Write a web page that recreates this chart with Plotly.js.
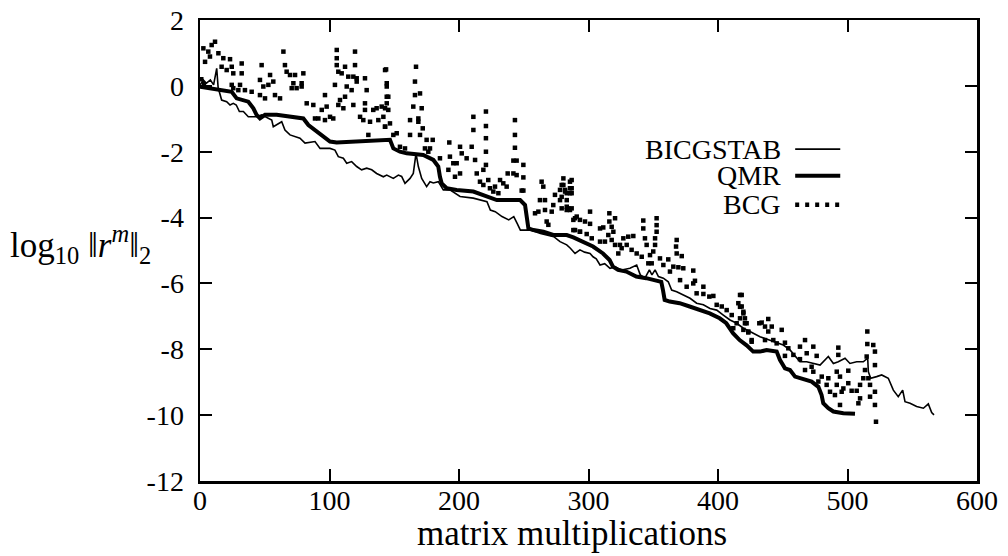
<!DOCTYPE html>
<html>
<head>
<meta charset="utf-8">
<script src="https://cdn.plot.ly/plotly-3.0.1.min.js"></script>
<style>html,body{margin:0;padding:0;background:#fff;}#chart{width:1008px;height:556px;}</style>
</head>
<body>
<div id="chart"></div>
<script>
// ---- data ----
var xTickVals = [0, 100, 200, 300, 400, 500, 600];
var xTickText = ["0", "100", "200", "300", "400", "500", "600"];
var yTickVals = [-12, -10, -8, -6, -4, -2, 0, 2];
var yTickText = ["-12", "-10", "-8", "-6", "-4", "-2", "0", "2"];

var seriesNames = ["BICGSTAB", "QMR", "BCG"];

var bicgstabX = [0, 2.6, 5, 8, 10.5, 12.9, 14, 15.4, 16.7, 20.6,
  23.2, 25.7, 28, 30.4, 33.5, 37.3, 43.7, 47.6, 55.4, 56.6,
  60.5, 63.1, 65.6, 69.5, 77.2, 81.1, 88.8, 92.7, 100.4, 104.2,
  106.8, 110.7, 113.3, 117.1, 121, 124.8, 128.7, 132.6, 136.4, 141.6,
  144.2, 149.3, 153.2, 155.7, 158.3, 162.2, 164.7, 166.8, 168.6, 171.2,
  175, 177.6, 180.2, 184, 187.9, 193, 200.8, 211, 221.6, 224.2,
  228, 233.2, 238.4, 242.3, 244.8, 247.4, 255.2, 262.9, 273.2, 278,
  283.2, 286, 289.6, 293.4, 297, 301.2, 303.5, 306, 308.9, 312.5,
  316.6, 320.5, 325.6, 332, 337.2, 340, 343.6, 347, 349, 351.4,
  354, 357.8, 361.6, 364.2, 368.1, 373.2, 378.4, 383.5, 388.7, 393.8,
  399, 404.1, 409.3, 414.4, 419.6, 424.7, 429.9, 432.4, 436.3, 440.2,
  445.3, 450.4, 455.6, 459.5, 463.3, 468.5, 473.6, 478.8, 485.2, 489.1,
  492.9, 498.1, 501.9, 507.1, 512.2, 515.6, 516.1, 517.9, 522.5, 526.4,
  531.5, 535.4, 539.2, 542.6, 544.4, 548.3, 553.4, 558.6, 562.4, 565, 566.8];
var bicgstabY = [0.03, 0.18, 0.08, 0.18, 0.03, 0.53, -0.05, -0.28, -0.43, -0.48,
  -0.58, -0.53, -0.58, -0.78, -0.78, -0.94, -0.94, -0.88, -1.04, -1.24,
  -1.14, -1.09, -1.34, -1.49, -1.59, -1.74, -1.69, -1.90, -1.90, -1.95,
  -2.15, -2.20, -2.35, -2.30, -2.45, -2.55, -2.50, -2.55, -2.66, -2.76,
  -2.71, -2.81, -2.71, -2.75, -2.96, -2.81, -2.66, -2.05, -2.45, -2.81,
  -3.06, -2.91, -2.95, -2.91, -3.16, -3.16, -3.36, -3.41, -3.52, -3.77,
  -3.82, -3.97, -4.07, -3.97, -4.17, -4.38, -4.38, -4.48, -4.58, -4.73,
  -4.83, -4.93, -5.09, -4.98, -5.05, -5.09, -5.19, -5.25, -5.44, -5.40,
  -5.54, -5.50, -5.59, -5.54, -5.44, -5.74, -5.84, -5.59, -5.74, -5.59,
  -5.79, -5.84, -5.95, -6.20, -6.25, -6.35, -6.45, -6.60, -6.65, -6.76,
  -6.81, -6.96, -7.11, -7.21, -7.36, -7.46, -7.57, -7.62, -7.67, -7.72,
  -7.80, -7.87, -8.02, -8.22, -8.38, -8.38, -8.43, -8.48, -8.22, -8.43,
  -8.38, -8.27, -8.43, -8.38, -8.38, -8.27, -8.68, -8.88, -8.83, -8.78,
  -8.88, -9.24, -9.44, -9.24, -9.59, -9.64, -9.74, -9.79, -9.66, -9.92, -9.99];

var qmrX = [0, 8, 18, 24.5, 28.3, 32.2, 37.3, 41.2, 43.7, 46.3,
  50.2, 59.2, 69.5, 79.8, 83.7, 88.8, 95.2, 100.4, 105.5, 121,
  136.4, 146.7, 149.3, 154.4, 159.6, 172.4, 180.2, 184, 185.3, 186.6,
  190.5, 198.2, 211.1, 221.4, 229.2, 236.9, 247.2, 251, 252.3, 253.6,
  257.5, 265.2, 272.8, 283.2, 288.3, 296, 303.5, 311.2, 316.3, 318.9,
  322.8, 329.2, 336.9, 344.6, 352.4, 356.2, 357.5, 358.8, 362.7, 370.4,
  378.1, 385.8, 393.6, 401.3, 406.4, 411.6, 416.7, 422.1, 427.2, 432.4,
  437.5, 445.3, 447.8, 451.7, 455.6, 459.5, 464.6, 472.3, 477.5, 480,
  481.3, 485.2, 489.1, 496.8, 505.8];
var qmrY = [-0.03, -0.07, -0.12, -0.18, -0.38, -0.43, -0.48, -0.68, -0.88, -0.99,
  -0.88, -0.88, -0.94, -0.99, -1.19, -1.34, -1.54, -1.69, -1.72, -1.69,
  -1.66, -1.64, -1.90, -2.0, -2.05, -2.10, -2.25, -2.45, -2.76, -2.96,
  -3.11, -3.16, -3.21, -3.36, -3.47, -3.47, -3.47, -3.62, -4.07, -4.33,
  -4.38, -4.43, -4.53, -4.53, -4.60, -4.73, -4.88, -5.09, -5.29, -5.49,
  -5.59, -5.64, -5.79, -5.84, -5.90, -5.95, -6.20, -6.50, -6.55, -6.60,
  -6.70, -6.81, -6.91, -7.06, -7.21, -7.51, -7.72, -7.88, -8.07, -8.07,
  -8.02, -8.07, -8.32, -8.58, -8.63, -8.83, -8.88, -8.98, -9.14, -9.39,
  -9.64, -9.79, -9.89, -9.94, -9.96];

var bcgX = [1, 3, 2.6, 6.4, 9.0, 11.6, 3.9, 7.7, 14.2, 18.0, 23.2, 16.7, 20.6, 24.5, 25.7, 32.2, 32.2, 24.5, 25.7, 30.9,
  29.6, 34.7, 39.9, 47.6, 46.3, 48.9, 52.8, 56.6, 54.1, 46.3, 50.2, 57.9, 61.8, 64.4, 65.6, 66.9, 69.5, 73.4, 72.1, 70.8,
  74.6, 78.5, 79.8, 78.5, 82.4, 87.5, 88.8, 91.4, 96.5, 94.0, 97.8, 96.5, 100.4, 102.9, 105.6, 105.6, 105.6, 106.8, 104.2, 112.0,
  109.4, 114.5, 118.4, 119.7, 119.7, 121.0, 121.0, 127.4, 128.7, 113.3, 117.1, 112.0, 108.1, 106.8, 110.7, 118.4, 123.6, 127.4, 127.4, 126.1,
  131.3, 130.0, 133.8, 136.4, 137.7, 140.3, 144.2, 145.4, 142.9, 144.2, 143.7,
  142.9, 144.2, 144.2, 142.9, 145.4, 141.6, 142.9, 146.7, 149.3, 151.9, 154.4, 158.3, 162.2, 162.2, 166.8, 166.0, 166.0, 169.9, 164.7,
  171.2, 168.6, 168.6, 172.0, 169.9, 175.0, 179.7, 173.7, 177.6, 176.3, 185.3, 192.5, 193.0, 195.6, 191.8, 200.8, 202.1, 198.2, 200.8, 196.9,
  205.9, 211.1, 211.1, 209.8, 212.4, 213.7, 216.2, 218.8, 220.8, 220.8, 220.8, 220.8, 220.8, 218.8, 222.6, 223.9, 226.5, 230.4, 227.8, 231.7,
  234.2, 236.8, 237.6, 243.2, 243.2, 243.2, 242.0, 244.5, 242.0, 244.5, 249.7, 249.7, 249.7, 248.4, 258.7, 261.3, 263.8, 265.1, 262.5, 266.4,
  267.7, 269.0, 266.4, 271.6, 272.8, 274.1, 278.0, 279.3, 280.6, 281.9, 283.2, 287.0, 285.7, 287.0, 278.0, 279.3, 283.2, 285.7, 288.3, 290.9,
  289.6, 293.4,
  280.6, 285.7, 287.0, 281.9, 285.7, 279.3, 283.2, 284.4, 283.2, 287.0, 301.2, 289.6, 293.4, 297.3, 301.2, 288.3, 293.4, 298.6, 302.5,
  308.9, 311.4, 316.1, 320.5, 316.1, 317.9, 319.2, 315.3, 308.9, 312.7, 317.9, 320.5, 326.9, 330.7, 334.6, 324.3, 329.5, 333.3, 323.0, 325.6,
  337.2, 342.3, 342.3, 343.6, 344.9, 347.5, 352.6, 352.6, 352.6, 351.4, 351.4, 350.0, 341.1, 346.2, 348.8, 355.2, 357.8, 361.6, 368.1, 367.6,
  368.1, 372.0, 365.5, 369.4, 373.2, 362.9, 370.7, 380.9, 382.2, 380.9, 375.8, 388.7, 383.5, 388.7, 393.3, 396.4, 399.0, 402.9, 406.7, 410.6,
  417.0, 415.7, 418.3, 419.6, 417.0, 420.8, 414.4, 411.8, 423.4, 426.0, 431.9,
  418.3, 417.0, 419.6, 420.8, 422.1, 419.6, 423.4, 426.0, 433.7, 438.8, 436.3, 441.5, 438.8, 436.3, 449.2, 442.7, 445.3, 451.7, 454.3, 451.7,
  458.2, 463.3, 467.2, 468.5, 473.6, 476.2, 463.3, 467.2, 472.3, 473.6, 480.1, 485.2, 477.5, 483.9, 486.5, 490.3, 492.9, 492.9, 491.7, 494.2,
  491.7, 496.8, 495.5, 500.6, 500.6, 503.2, 494.2, 507.1, 508.4, 509.7, 509.7, 512.2, 513.5, 514.8, 515.3, 515.3, 516.1, 517.4, 517.4, 519.9,
  521.2, 521.2, 521.2, 521.2, 522.0];
var bcgY = [0.2, 0.05, 1.14, 1.04, 1.24, 1.34, 0.73, 0.89, 0.99, 0.84, 0.81, 0.58, 0.48, 0.58, 0.38, 0.68, 0.38, 0.03, -0.07, 0.03,
  -0.13, -0.13, -0.18, 0.63, 0.18, -0.02, 0.03, 0.13, 0.33, -0.28, -0.38, -0.28, -0.38, 1.04, 0.63, 0.43, 0.33, 0.33, 0.08, -0.07,
  -0.07, 0.08, 0.38, -0.02, -0.53, -0.58, -0.99, -0.99, -0.28, -0.73, -0.63, -1.04, -0.94, -0.99, 1.09, 0.84, 0.63, 0.43, 0.03, 0.58,
  0.38, 0.28, 0.28, 1.04, 0.63, 0.23, 0.13, 0.23, -0.13, -0.02, -0.13, -0.33, -0.43, -0.58, -0.68, -0.58, -0.94, -0.53, -0.73, -1.04,
  -1.09, -1.49, -0.73, -0.68, -1.04, -0.63, -0.53, -0.33, -1.24, -0.02, 0.50,
  0.48, 0.08, -0.33, -0.68, -0.73, -0.94, -1.24, -1.14, -1.49, -1.44, -1.85, -1.90, -1.04, -1.49, 0.58, 0.13, -0.28, -0.23, -0.63,
  -0.68, -0.99, -1.09, -1.29, -1.49, -1.64, -1.64, -1.90, -1.90, -2.0, -2.20, -1.72, -2.15, -2.35, -2.55, -1.85, -2.05, -2.35, -2.66, -2.76,
  -2.20, -0.94, -1.34, -1.85, -2.25, -2.66, -2.91, -3.01, -0.78, -1.22, -1.59, -2.0, -2.40, -2.55, -2.86, -3.11, -3.21, -3.26, -3.06, -2.86,
  -2.96, -3.06, -2.66, -1.04, -1.49, -1.88, -2.27, -2.27, -2.66, -2.71, -2.40, -2.78, -3.18, -3.18, -3.87, -3.82, -2.91, -3.06, -3.47, -3.47,
  -4.12, -4.22, -3.77, -3.82, -3.62, -3.31, -3.16, -3.01, -2.81, -3.16, -3.26, -2.86, -3.11, -3.26, -3.47, -3.72, -3.67, -3.77, -4.07, -3.97,
  -4.38, -4.43,
  -3.01, -2.91, -3.11, -3.21, -3.26, -3.37, -3.47, -3.72, -3.77, -3.72, -3.82, -4.02, -4.07, -4.12, -4.19, -4.38, -4.43, -4.50, -4.63,
  -4.33, -4.30, -3.87, -4.02, -4.12, -4.28, -4.43, -4.53, -4.73, -4.73, -4.68, -4.83, -4.63, -4.58, -4.56, -4.83, -4.83, -4.98, -5.09, -4.93,
  -5.09, -4.09, -4.33, -4.63, -4.83, -5.14, -4.02, -4.23, -4.43, -4.63, -4.83, -5.03, -5.19, -5.39, -5.39, -5.24, -5.44, -5.27, -4.68, -4.88,
  -5.09, -5.17, -5.49, -5.51, -5.54, -5.64, -5.90, -5.61, -5.92, -6.0, -6.10, -6.10, -6.30, -6.32, -6.40, -6.38, -6.65, -6.70, -6.81, -6.96,
  -6.35, -6.60, -6.70, -6.91, -7.06, -7.21, -7.21, -7.36, -7.49, -7.77, -7.21,
  -6.35, -6.71, -6.86, -7.06, -7.21, -7.41, -7.46, -7.72, -7.19, -7.08, -7.31, -7.31, -7.46, -7.72, -7.41, -7.72, -7.82, -7.80, -7.97, -8.20,
  -8.17, -7.92, -7.72, -8.12, -7.92, -8.20, -8.30, -8.63, -8.53, -8.68, -8.83, -8.88, -8.98, -9.08, -9.29, -9.39, -7.95, -8.17, -8.68, -8.83,
  -9.08, -9.19, -9.29, -8.65, -9.03, -9.26, -9.69, -9.26, -9.64, -9.49, -9.08, -8.88, -8.63, -8.22, -7.46, -7.84, -8.88, -9.08, -9.44, -7.87,
  -8.07, -8.48, -9.29, -9.69, -10.2];

// ---- drawing ----
var FONT = "Liberation Serif, Times New Roman, serif";
var traces = [
  {x: bicgstabX, y: bicgstabY, name: seriesNames[0], type: "scatter", mode: "lines",
   line: {color: "#000", width: 1.6}},
  {x: qmrX, y: qmrY, name: seriesNames[1], type: "scatter", mode: "lines",
   line: {color: "#000", width: 4}},
  {x: bcgX, y: bcgY, name: seriesNames[2], type: "scatter", mode: "markers",
   marker: {symbol: "square", size: 4.5, color: "#000", line: {width: 0}}}
];

function axisBase() {
  return {
    showgrid: false, zeroline: false, showline: true, linecolor: "#000", linewidth: 2.5,
    mirror: "allticks", ticks: "inside", ticklen: 12, tickwidth: 2, tickcolor: "#000",
    tickfont: {family: FONT, size: 28, color: "#000"}
  };
}
var xa = axisBase();
xa.range = [0, 600]; xa.tickmode = "array"; xa.tickvals = xTickVals; xa.ticktext = xTickText;
xa.ticklabelstandoff = -7;
var ya = axisBase();
ya.range = [-12, 2]; ya.tickmode = "array"; ya.tickvals = yTickVals; ya.ticktext = yTickText;
ya.ticklabelstandoff = 8;

var legendRows = [
  {name: seriesNames[0], y: 0.720, dash: "solid", width: 1.6},
  {name: seriesNames[1], y: 0.662, dash: "solid", width: 4},
  {name: seriesNames[2], y: 0.599, dash: "4px,6px", width: 4.5}
];
var annotations = [
  {xref: "paper", yref: "paper", x: 0.479, y: -0.113, xanchor: "center", yanchor: "middle",
   text: "matrix multiplications", showarrow: false, font: {family: FONT, size: 35, color: "#000"}},
  {xref: "paper", yref: "paper", x: -0.247, y: 0.512, xanchor: "left", yanchor: "middle",
   text: "log<sub>10</sub> \u2016<i>r</i><sup><i>m</i></sup>\u2016<sub>2</sub>", showarrow: false,
   font: {family: FONT, size: 35, color: "#000"}}
];
var shapes = [];
legendRows.forEach(function (r) {
  annotations.push({xref: "paper", yref: "paper", x: 0.750, y: r.y, xanchor: "right", yanchor: "middle",
    text: r.name, showarrow: false, font: {family: FONT, size: 28, color: "#000"}});
  shapes.push({type: "line", xref: "paper", yref: "paper", x0: 0.766, x1: 0.824, y0: r.y, y1: r.y,
    line: {color: "#000", width: r.width, dash: r.dash}});
});

var layout = {
  width: 1008, height: 556,
  margin: {l: 200, r: 31, t: 20, b: 75},
  paper_bgcolor: "#fff", plot_bgcolor: "#fff",
  showlegend: false,
  xaxis: xa, yaxis: ya,
  annotations: annotations, shapes: shapes,
  font: {family: FONT, color: "#000"}
};
Plotly.newPlot("chart", traces, layout, {staticPlot: true, displayModeBar: false});
</script>
</body>
</html>
